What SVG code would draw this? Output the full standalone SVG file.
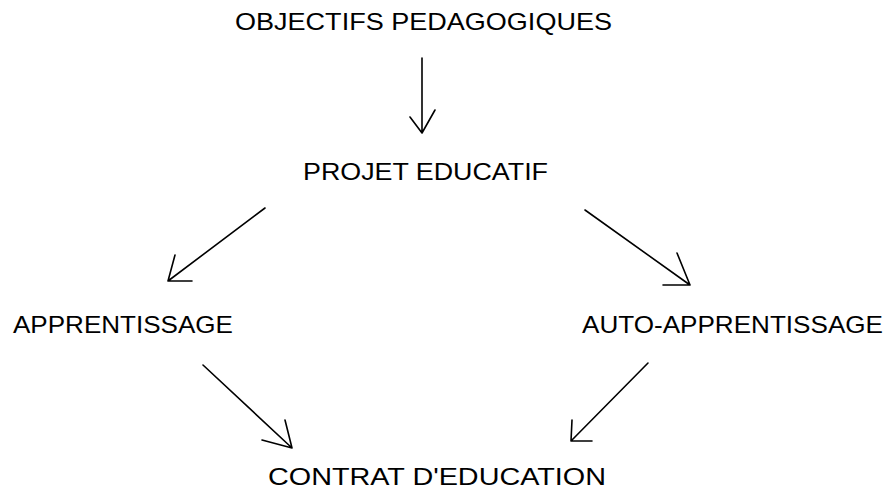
<svg xmlns="http://www.w3.org/2000/svg" width="892" height="490" viewBox="0 0 892 490">
<style>
.t{font-family:"Liberation Sans",Arial,sans-serif;font-size:24px;fill:#000}
.c{fill:none;stroke:#000;stroke-width:1.6;stroke-linecap:round;stroke-linejoin:round}
</style>
<rect width="892" height="490" fill="#fff"/>
<g id="n1"><text class="t" x="235" y="30" textLength="377" lengthAdjust="spacingAndGlyphs">OBJECTIFS PEDAGOGIQUES</text></g>
<g id="n2"><text class="t" x="303" y="180" textLength="245" lengthAdjust="spacingAndGlyphs">PROJET EDUCATIF</text></g>
<g id="n3"><text class="t" x="13" y="333" textLength="220" lengthAdjust="spacingAndGlyphs">APPRENTISSAGE</text></g>
<g id="n4"><text class="t" x="582" y="333" textLength="301" lengthAdjust="spacingAndGlyphs">AUTO-APPRENTISSAGE</text></g>
<g id="n5"><text class="t" x="268" y="485" textLength="338" lengthAdjust="spacingAndGlyphs">CONTRAT D'EDUCATION</text></g>
<g id="connectors">
<path class="c" d="M422,58 L422,133 M410,117 L422,133 L435,110"/>
<path class="c" d="M265,208 L168,281 M175,255 L168,281 L192,281"/>
<path class="c" d="M585,210 L690,285 M677,253 L690,285 L663,285"/>
<path class="c" d="M203,365 L292,448 M285,420 L292,448 L262,440"/>
<path class="c" d="M648,363 L571,441 M572,420 L571,441 L592,441"/>
</g>
</svg>
